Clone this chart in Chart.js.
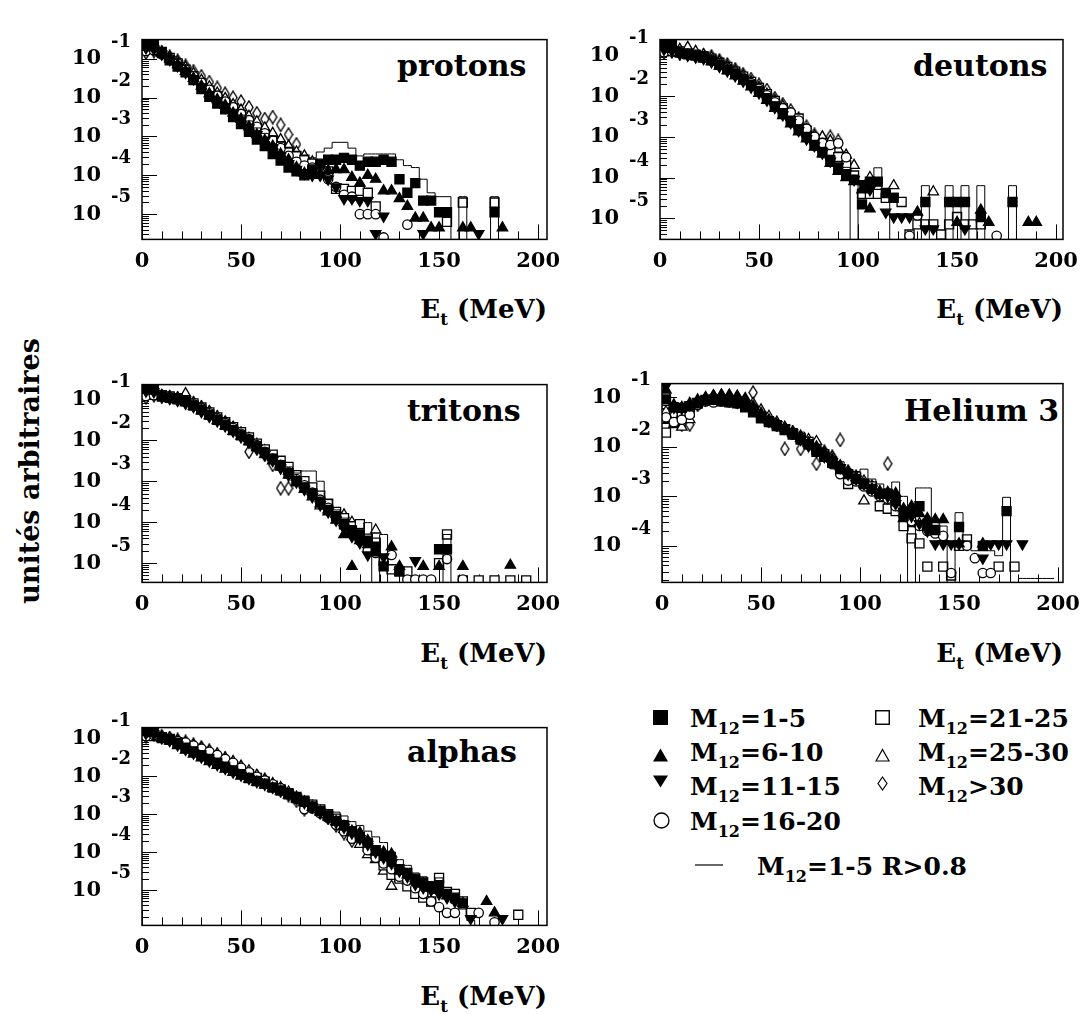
<!DOCTYPE html>
<html lang="fr">
<head>
<meta charset="utf-8">
<title>Spectres en énergie transverse</title>
<script src="https://cdn.jsdelivr.net/npm/chart.js@4/dist/chart.umd.min.js"></script>
<style>
  html, body { margin:0; padding:0; background:#fff; }
  body { width:1086px; height:1014px; position:relative; overflow:hidden;
         font-family:'DejaVu Serif', serif; font-weight:bold; color:#000; }
  .panel { position:absolute; }
  .name { position:absolute; font-size:30px; line-height:30px; white-space:nowrap; }
  .xtitle { position:absolute; font-size:26px; line-height:26px; white-space:nowrap; }
  .leg { position:absolute; font-size:25px; line-height:25px; white-space:nowrap; }
  sub { font-size:.64em; vertical-align:-.42em; line-height:0; }
  .mk { position:absolute; overflow:visible; }
  #ytitle { position:absolute; left:29px; top:471px; font-size:27px; line-height:27px; white-space:nowrap;
            transform:translate(-50%,-50%) rotate(-90deg); }
</style>
</head>
<body>

<div id="ytitle">unités arbitraires</div>

<div class="name" style="left:397px;top:51px">protons</div>
<div class="name" style="left:913px;top:51px">deutons</div>
<div class="name" style="left:407px;top:396px">tritons</div>
<div class="name" style="left:904px;top:396px">Helium 3</div>
<div class="name" style="left:407px;top:737px">alphas</div>

<div class="xtitle" style="right:539px;top:296px">E<sub>t</sub> (MeV)</div>
<div class="xtitle" style="right:23px;top:296px">E<sub>t</sub> (MeV)</div>
<div class="xtitle" style="right:539px;top:640px">E<sub>t</sub> (MeV)</div>
<div class="xtitle" style="right:23px;top:640px">E<sub>t</sub> (MeV)</div>
<div class="xtitle" style="right:539px;top:983px">E<sub>t</sub> (MeV)</div>

<!-- légende -->
<svg class="mk" style="left:653px;top:710px" width="15" height="15"><rect x="0" y="0" width="15" height="15" fill="#000"/></svg>
<svg class="mk" style="left:875px;top:710px" width="15" height="15"><rect x=".75" y=".75" width="13.5" height="13.5" fill="#fff" stroke="#000" stroke-width="1.4"/></svg>
<svg class="mk" style="left:653px;top:748px" width="15" height="14"><polygon points="0,13.5 7.5,0.5 15,13.5" fill="#000"/></svg>
<svg class="mk" style="left:875px;top:748px" width="15" height="14"><polygon points="1,13 7.5,1.5 14,13" fill="#fff" stroke="#000" stroke-width="1.2"/></svg>
<svg class="mk" style="left:653px;top:775px" width="15" height="13"><polygon points="0,0.5 15,0.5 7.5,12.5" fill="#000"/></svg>
<svg class="mk" style="left:877px;top:776px" width="11" height="15"><polygon points="5.5,1 10,7.5 5.5,14 1,7.5" fill="#fff" stroke="#000" stroke-width="1.2"/></svg>
<svg class="mk" style="left:653px;top:812px" width="17" height="17"><circle cx="8.5" cy="8.5" r="7.5" fill="#fff" stroke="#000" stroke-width="1.3"/></svg>
<svg class="mk" style="left:695px;top:864px" width="28" height="2"><line x1="0" y1="1" x2="28" y2="1" stroke="#000" stroke-width="1.2"/></svg>

<div class="leg" style="left:690px;top:706px">M<sub>12</sub>=1-5</div>
<div class="leg" style="left:918px;top:706px">M<sub>12</sub>=21-25</div>
<div class="leg" style="left:690px;top:740px">M<sub>12</sub>=6-10</div>
<div class="leg" style="left:918px;top:740px">M<sub>12</sub>=25-30</div>
<div class="leg" style="left:690px;top:774px">M<sub>12</sub>=11-15</div>
<div class="leg" style="left:918px;top:774px">M<sub>12</sub>&gt;30</div>
<div class="leg" style="left:690px;top:809px">M<sub>12</sub>=16-20</div>
<div class="leg" style="left:757px;top:854px">M<sub>12</sub>=1-5 R&gt;0.8</div>

<script>
// === Données =============================================================
// Bins de 4 MeV ; chaque valeur = log10(unités arbitraires), _ = pas de point.
// Ordre des séries : M12=1-5, 6-10, 11-15, 16-20, 21-25, 25-30, >30, puis histo R>0.8
const _ = null;

const binEnergies = [2,6,10,14,18,22,26,30,34,38,42,46,50,54,58,62,66,70,74,78,
                     82,86,90,94,98,102,106,110,114,118,122,126,130,134,138,142,146,150,154,158,
                     162,166,170,174,178,182,186,190,194,198];
const xTickLabels = [0, 50, 100, 150, 200];
const decades5 = [-1, -2, -3, -4, -5];
const decades4 = [-1, -2, -3, -4];

// --- protons
const protonsSq = [-0.55,-0.6,-0.85,-1.04,-1.2,-1.35,-1.55,-1.78,-1.98,-2.15,
  -2.3,-2.5,-2.68,-2.88,-3.08,-3.25,-3.45,-3.62,-3.8,-3.9,
  -4.0,-3.85,-3.7,-3.6,-3.6,-3.55,-3.6,-3.75,-3.65,-3.65,
  -3.6,-3.65,-4.1,-4.45,-4.2,-4.65,-4.65,-4.95,-4.95,_,
  _,_,_,_,-4.95];
const protonsTriUp = [-0.7,-0.72,-0.85,-1.0,-1.15,-1.32,-1.5,-1.7,-1.9,-2.05,
  -2.2,-2.4,-2.55,-2.75,-2.95,-3.1,-3.25,-3.45,-3.6,-3.8,
  -3.95,-4.0,-3.95,-3.88,-3.85,-3.85,-4.05,-4.2,-4.0,-4.1,
  -4.4,-4.4,-4.6,-4.8,-5.1,-5.1,-5.35,-5.35,_,_,
  -5.35,-5.35,_,_,_,-5.35];
const protonsTriDown = [-0.72,-0.75,-0.88,-1.02,-1.18,-1.35,-1.52,-1.72,-1.92,-2.08,
  -2.25,-2.42,-2.6,-2.78,-2.95,-3.1,-3.3,-3.5,-3.7,-3.85,
  -3.95,-4.0,-4.0,-4.1,-4.3,-4.6,-4.6,-4.65,-4.65,-5.5,
  -5.05,_,_,_,_,-5.5,_,_,_,_,
  _,_,-5.5];
const protonsCircle = [-0.8,-0.78,-0.88,-1.0,-1.12,-1.28,-1.45,-1.62,-1.8,-1.95,
  -2.1,-2.25,-2.42,-2.58,-2.75,-2.92,-3.1,-3.3,-3.5,-3.65,
  -3.75,-3.8,-3.95,-4.1,-4.3,-4.5,-4.55,-5.0,-5.0,-5.0,
  -5.6,_,_,-5.27];
const protonsOpenSq = [-0.75,-0.72,-0.82,-0.98,-1.12,-1.28,-1.45,-1.63,-1.82,-1.97,
  -2.12,-2.28,-2.45,-2.62,-2.8,-2.95,-3.1,-3.25,-3.4,-3.5,
  -3.6,-3.7,-3.8,-3.9,-4.35,-4.35,-4.4,-4.4,-4.45,-4.8,
  _,_,_,_,_,_,_,_,-5.2,_,
  -4.7,_,_,_,-4.7];
const protonsOpenTri = [-0.78,-0.75,-0.82,-0.95,-1.08,-1.22,-1.38,-1.55,-1.72,-1.88,
  -2.02,-2.18,-2.32,-2.48,-2.62,-2.78,-2.92,-3.08,-3.25,-3.4,
  -3.5,-3.65,-3.8];
const protonsDiamond = [-0.84,-0.8,-0.85,-0.95,-1.05,-1.18,-1.32,-1.45,-1.6,-1.75,
  -1.9,-2.0,-2.1,-2.25,-2.4,-2.55,-2.5,-2.7,-2.95,-3.2];
const protonsHist = [-0.5,-0.55,-0.8,-0.98,-1.15,-1.3,-1.48,-1.68,-1.85,-2.0,
  -2.15,-2.3,-2.45,-2.6,-2.78,-2.92,-3.0,-3.15,-3.3,-3.4,
  -3.5,-3.55,-3.4,-3.3,-3.15,-3.15,-3.3,-3.5,-3.45,-3.45,
  -3.45,-3.45,-3.6,-3.75,-3.8,-4.1,-4.45,-4.55,-4.55,_,
  -4.55,_,_,_,-4.55,_];

// --- deutons
const deutonsSq = [-0.66,-0.72,-0.93,-0.97,-1.0,-1.05,-1.12,-1.23,-1.34,-1.45,
  -1.58,-1.72,-1.87,-2.05,-2.25,-2.42,-2.6,-2.82,-3.0,-3.2,
  -3.38,-3.58,-3.78,-3.92,-4.05,-4.66,-4.1,-4.1,-4.38,-4.5,
  _,_,_,-4.6,_,_,-4.6,-4.6,-4.6,_,
  -4.97,_,_,_,-4.6];
const deutonsTriUp = [-0.8,-0.85,-0.95,-1.0,-1.03,-1.08,-1.15,-1.26,-1.37,-1.5,
  -1.63,-1.77,-1.93,-2.1,-2.3,-2.48,-2.68,-2.88,-3.05,-3.25,
  -3.42,-3.65,-3.85,-4.0,-4.1,-4.3,-4.77,_,_,_,
  _,_,-4.85,_,_,_,_,-5.1,_,_,
  -4.8,-5.1,_,_,_,_,-5.1,-5.1];
const deutonsTriDown = [-0.85,-0.88,-0.96,-1.0,-1.04,-1.08,-1.16,-1.27,-1.38,-1.5,
  -1.63,-1.78,-1.92,-2.1,-2.28,-2.46,-2.65,-2.85,-3.05,-3.22,
  -3.4,-3.6,-3.72,-3.9,-4.05,-4.15,-4.3,_,-4.85,-4.97,
  -4.97,-4.97,_,-5.26,-5.26,_,_,_,-5.26];
const deutonsCircle = [-0.92,-0.9,-0.92,-0.96,-1.0,-1.04,-1.1,-1.2,-1.3,-1.42,
  -1.55,-1.68,-1.82,-1.98,-2.15,-2.3,-2.4,-2.6,-2.8,-3.0,
  -3.15,-3.2,-3.16,-3.5,_,_,_,_,_,_,
  _,-5.43,-4.93,_,_,_,_,_,_,_,
  _,_,-5.43];
const deutonsOpenSq = [-0.9,-0.88,-0.9,-0.95,-0.98,-1.02,-1.08,-1.18,-1.28,-1.4,
  -1.52,-1.65,-1.8,-1.95,-2.12,-2.3,-2.48,-2.55,-2.85,-3.05,
  -3.15,-3.35,-3.5,-3.7,-3.95,-4.4,-4.4,-4.4,-4.5,-4.5,
  -4.6,-5.4,-5.15,-5.15,-5.15,-5.4,-5.15,-4.97,-5.15,-5.15,
  -5.15];
const deutonsOpenTri = [-0.85,-0.82,-0.85,-0.8,-0.9,-0.98,-1.05,-1.15,-1.26,-1.38,
  -1.5,-1.64,-1.78,-1.95,-2.1,-2.25,-2.45,-2.65,-2.82,-2.98,
  -3.0,-3.1,-3.3,-3.45,-3.7,_,-4.0,_,_,-4.2,
  _,_,_,_,-4.35];
const deutonsDiamond = [-0.92,-0.9,-0.94,-0.96,-0.98,-1.0,-1.02,-1.12,-1.22,-1.34,
  -1.46,-1.58,-1.72,-1.85,-2.05,-2.2,-2.35,-2.55,-2.75,-2.95,
  -3.05,-3.0,-3.1];
const deutonsHist = [-0.62,-0.66,-0.9,-0.94,-0.97,-1.02,-1.08,-1.18,-1.28,-1.4,
  -1.53,-1.66,-1.8,-1.97,-2.15,-2.33,-2.52,-2.72,-2.92,-3.1,
  -3.28,-3.45,-3.6,-3.75,_,-4.1,-4.1,-3.76,-4.35,_,
  _,_,_,-4.2,_,_,-4.2,_,-4.2,_,
  -4.2,_,_,_,-4.2,_];

// --- tritons
const tritonsSq = [-0.68,-0.75,-0.93,-0.96,-1.0,-1.05,-1.15,-1.25,-1.38,-1.5,
  -1.62,-1.75,-1.88,-2.0,-2.15,-2.3,-2.45,-2.62,-2.8,-3.0,
  -3.15,-3.3,-3.5,-3.7,-3.85,-4.05,-4.2,-4.3,-4.45,-4.6,
  -5.08,_,-5.2,_,_,_,_,-4.66,-4.66];
const tritonsTriUp = [-0.78,-0.8,-0.92,-0.97,-1.02,-1.08,-1.17,-1.28,-1.4,-1.52,
  -1.65,-1.78,-1.9,-2.03,-2.18,-2.35,-2.5,-2.65,-2.85,-3.02,
  -3.2,-3.38,-3.55,-3.75,-3.95,-4.3,-5.08,-4.45,-4.55,-4.75,
  _,-4.6,-5.08,_,_,-5.08,_,-5.08,_,_,
  -5.08,_,_,_,_,_,-5.05];
const tritonsTriDown = [-0.8,-0.82,-0.94,-0.98,-1.03,-1.1,-1.18,-1.3,-1.42,-1.53,
  -1.65,-1.78,-1.92,-2.05,-2.2,-2.35,-2.5,-2.68,-2.85,-3.02,
  -3.2,-3.38,-3.58,-3.75,-3.95,-4.15,-4.35,-4.5,-4.8,_,
  -4.85,_,_,_,-4.94];
const tritonsCircle = [-0.92,-0.9,-0.92,-0.95,-0.98,-1.04,-1.12,-1.22,-1.34,-1.46,
  -1.58,-1.7,-1.84,-1.97,-2.12,-2.28,-2.45,-2.6,-2.78,-2.95,
  -3.1,-3.28,-3.45,-3.65,-3.85,-4.05,-4.2,-4.45,-4.7,-4.75,
  _,-4.8,_,-5.4,-5.4,-5.4,-5.4,_,-4.9,_,
  -5.4];
const tritonsOpenSq = [-0.85,-0.85,-0.9,-0.93,-0.97,-1.02,-1.1,-1.2,-1.32,-1.44,
  -1.56,-1.68,-1.8,-1.93,-2.08,-2.22,-2.35,-2.5,-2.65,-2.85,
  -3.0,-3.15,-3.35,-3.55,-3.75,-3.9,-4.1,-4.05,-4.4,-4.5,
  -4.95,-5.15,-5.2,-5.2,_,_,_,-5.0,-4.3,_,
  -5.42,_,-5.42,_,-5.42,_,-5.42,_,-5.42];
const tritonsOpenTri = [-0.9,-0.88,-0.9,-0.93,-0.96,-0.86,-1.08,-1.18,-1.3,-1.42,
  -1.55,-1.68,-1.82,-1.95,-2.1,-2.25,-2.42,-2.58,-2.75,-2.9,
  -3.08,-3.25,-3.6,-3.7,-3.8,-3.82,-4.0,_,_,-4.19];
const tritonsDiamond = [-0.95,-0.9,-0.93,-0.95,-0.98,-1.02,-1.1,-1.2,-1.32,-1.45,
  -1.58,-1.72,-1.88,-2.28,-2.2,-2.35,-2.6,-3.17,-3.17,-2.95,
  -3.15];
const tritonsHist = [-0.66,-0.72,-0.9,-0.94,-0.98,-1.03,-1.12,-1.22,-1.34,-1.46,
  -1.58,-1.7,-1.82,-1.95,-2.08,-2.2,-2.35,-2.5,-2.65,-2.8,
  -2.75,-2.75,-3.0,-3.45,-3.7,-3.9,-4.1,-4.15,-4.01,_,
  -4.3,_,_,_,_,_,_,_,-4.3,_];

// --- helium 3
const heliumSq = [-1.04,-1.2,-1.21,-1.18,-1.12,-1.05,-1.05,-1.08,-1.1,-1.12,
  -1.2,-1.3,-1.42,-1.5,-1.58,-1.66,-1.75,-1.85,-1.95,-2.1,
  -2.2,-2.32,-2.45,-2.55,-2.65,-2.75,-2.85,-2.95,-2.95,-3.1,
  -3.4,-3.3,-3.2,-3.55,-3.68,_,_,-3.62,_,_,
  -4.0,_,_,-3.3];
const heliumTriUp = [-0.85,-1.15,-1.2,-1.12,-1.05,-1.0,-0.97,-0.95,-0.96,-0.98,
  -1.05,-1.18,-1.32,-1.45,-1.55,-1.62,-1.72,-1.82,-1.92,-2.0,
  -2.12,-2.25,-2.38,-2.5,-2.62,-2.75,-2.85,-2.9,-2.92,-2.94,
  -3.25,-3.2,-3.35,-3.45,-3.47,-3.47,_,-3.96,_,_,
  -3.96];
const heliumTriDown = [-0.77,-1.2,-1.22,-1.15,-1.08,-1.05,-1.02,-1.04,-1.06,-1.1,
  -1.15,-1.25,-1.38,-1.48,-1.55,-1.62,-1.72,-1.85,-1.98,-2.08,
  -2.2,-2.3,-2.42,-2.55,-2.65,-2.75,-2.85,-2.95,-3.0,-3.15,
  -3.3,-3.4,-3.55,-3.7,-3.96,-3.96,-3.96,-3.96,_,_,
  -4.25,-3.96,-3.96,-3.96,_,-3.96];
const heliumCircle = [-1.4,-1.5,-1.45,-1.35,-1.15,-1.08,-1.1,-1.08,-1.1,-1.12,
  -1.18,-1.28,-1.4,-1.5,-1.58,-1.65,-1.75,-1.85,-1.95,-2.1,
  -2.2,-2.35,-2.55,-2.68,-2.7,-2.8,-2.9,-3.0,-3.05,-3.2,
  -3.4,-3.5,-3.6,-3.7,-3.75,-3.8,-4.55,_,-4.0,-4.25,
  -4.55,-4.55];
const heliumOpenSq = [-1.71,-1.5,-1.35,-1.3,-1.12,-1.06,-1.05,-1.06,-1.08,-1.1,
  -1.15,-1.25,-1.38,-1.48,-1.56,-1.64,-1.72,-1.82,-1.9,-2.05,
  -2.15,-2.3,-2.45,-2.75,-2.6,-2.75,-2.8,-3.2,-3.25,-3.3,
  -3.6,-3.85,-3.95,-4.42,_,-4.42,-4.6,-4.0,-3.87,_,
  _,_,-4.42,_,-4.42];
const heliumOpenTri = [-1.45,-1.55,-1.6,-1.45,-1.1,-1.02,-0.96,-0.95,-0.95,-0.97,
  -1.02,-1.12,-1.25,-1.38,-1.5,-1.6,-1.7,-1.78,-1.85,-1.89,
  -2.1,-2.2,-2.4,-2.55,-2.7,-3.09,-2.85,-2.95,-3.1,-3.25,
  -3.45,-3.55,-3.55,-3.55];
const heliumDiamond = [-1.3,-1.35,-1.55,-1.55,-1.15,-1.05,-1.0,-1.0,-1.02,-1.05,
  -1.08,-0.9,-1.35,-1.45,-1.55,-2.04,-1.7,-2.04,-1.9,-2.34,
  -2.1,-2.2,-1.86,-2.5,-2.6,-2.7,-2.8,-3.0,-2.34];
const heliumHist = [-0.9,-1.1,-1.15,-1.1,-1.02,-0.98,-0.95,-0.95,-0.96,-1.0,
  -1.05,-1.15,-1.3,-1.42,-1.52,-1.58,-1.65,-1.7,-1.85,-1.98,
  -2.05,-2.2,-2.3,-2.45,-2.5,-2.45,-2.65,-2.75,-2.85,-2.71,
  -3.0,_,-2.83,-2.83,-3.5,-3.6,_,-3.33,-3.9,-4.1,
  -4.1,-4.1,-4.2,-3.02,_,-4.66,-4.66,-4.66,-4.66,-4.66];

// --- alphas
const alphasSq = [-0.77,-0.8,-0.98,-1.02,-1.12,-1.25,-1.35,-1.45,-1.55,-1.65,
  -1.75,-1.85,-1.95,-2.05,-2.13,-2.2,-2.3,-2.38,-2.48,-2.58,
  -2.68,-2.8,-2.92,-3.05,-3.18,-3.3,-3.45,-3.6,-3.75,-3.95,
  -4.1,-4.25,-4.45,-4.55,-4.7,-4.8,-4.9,-4.87,-5.1,-5.2,
  -5.35];
const alphasTriUp = [-0.85,-0.88,-1.0,-1.08,-1.2,-1.32,-1.42,-1.52,-1.62,-1.72,
  -1.82,-1.9,-2.0,-2.08,-2.16,-2.24,-2.32,-2.4,-2.5,-2.6,
  -2.7,-2.82,-2.95,-3.08,-3.2,-3.32,-3.45,-3.49,-3.7,-4.0,
  -4.0,-4.05,-4.5,-4.6,-4.75,-4.83,-4.95,-5.0,-5.15,_,
  -5.35,_,_,-5.3,-5.6];
const alphasTriDown = [-0.88,-0.9,-1.0,-1.07,-1.18,-1.3,-1.4,-1.5,-1.6,-1.7,
  -1.8,-1.9,-1.98,-2.06,-2.15,-2.22,-2.3,-2.38,-2.48,-2.58,
  -2.7,-2.82,-2.95,-3.1,-3.22,-3.35,-3.5,-3.65,-3.8,-4.0,
  -4.15,-4.3,-4.5,-4.65,-4.85,-4.94,-5.0,-5.1,-5.2,-5.3,
  _,-5.75,_,_,_,-5.75];
const alphasCircle = [-0.95,-0.92,-0.98,-1.02,-1.08,-1.12,-1.2,-1.28,-1.36,-1.45,
  -1.55,-1.65,-1.78,-1.9,-2.02,-2.12,-2.22,-2.32,-2.45,-2.6,
  -2.87,-2.85,-2.98,-3.1,-3.28,-3.45,-3.65,-3.6,-3.95,-4.15,
  -4.3,-4.45,-4.65,-4.75,-4.95,-5.1,-5.3,-5.45,-5.6,-5.6,
  _,_,-5.6,_,-5.85];
const alphasOpenSq = [-0.92,-0.95,-1.0,-1.04,-1.12,-1.2,-1.28,-1.36,-1.45,-1.55,
  -1.65,-1.75,-1.85,-1.95,-2.05,-2.15,-2.25,-2.35,-2.45,-2.55,
  -2.65,-2.75,-2.88,-3.0,-3.12,-3.3,-3.45,-3.62,-3.85,-4.05,
  -4.35,-4.6,-4.7,-4.9,-5.1,-5.2,-5.3,-4.68,-5.05,-5.1,
  -5.3,-5.6,_,_,_,_,_,-5.65];
const alphasOpenTri = [-0.92,-0.9,-0.96,-1.0,-1.06,-1.12,-1.18,-1.25,-1.33,-1.42,
  -1.52,-1.62,-1.74,-1.86,-1.98,-2.1,-2.2,-2.3,-2.42,-2.55,
  -2.68,-2.8,-2.92,-3.05,-3.2,-3.4,-3.6,-3.8,-4.07,-4.2,
  -4.5,-4.9,-4.7,-4.75,-4.85,-4.95,-4.95,-5.0];
const alphasDiamond = [-0.95,-0.9,-0.95,-1.0,-1.05,-1.1,-1.18,-1.25,-1.34,-1.44,
  -1.55,-1.65,-1.78,-1.9,-2.0,-2.1,-2.25,-2.38,-2.5,-2.65,
  -2.87,-2.8,-2.95,-3.1,-3.3,-3.5,-3.7];
const alphasHist = [-0.75,-0.78,-0.95,-1.0,-1.1,-1.2,-1.3,-1.4,-1.5,-1.6,
  -1.7,-1.8,-1.9,-1.98,-2.05,-2.12,-2.2,-2.3,-2.4,-2.5,
  -2.6,-2.7,-2.8,-2.9,-2.95,-3.05,-3.2,-3.3,-3.45,-3.6,
  -3.75,-4.0,-4.2,-4.35,-4.55,-4.65,-4.8,-4.68,-5.2,-5.35,
  -5.5,-5.8,_];

// === Mise en page des 5 cadres (pixels de la page) =======================
const panels = [
  { box:[142, 18, 547, 247], xMax:204.5, yLog:[-5.65, -0.505], decades:decades5,
    series:[protonsSq, protonsTriUp, protonsTriDown, protonsCircle, protonsOpenSq, protonsOpenTri, protonsDiamond], hist:protonsHist },
  { box:[660, 18, 1063, 247], xMax:203.5, yLog:[-5.52, -0.61], decades:decades5,
    series:[deutonsSq, deutonsTriUp, deutonsTriDown, deutonsCircle, deutonsOpenSq, deutonsOpenTri, deutonsDiamond], hist:deutonsHist },
  { box:[142, 363, 547, 590], xMax:204.5, yLog:[-5.47, -0.64], decades:decades5,
    series:[tritonsSq, tritonsTriUp, tritonsTriDown, tritonsCircle, tritonsOpenSq, tritonsOpenTri, tritonsDiamond], hist:tritonsHist },
  { box:[662, 362, 1063, 590], xMax:202.5, yLog:[-4.74, -0.72], decades:decades4,
    series:[heliumSq, heliumTriUp, heliumTriDown, heliumCircle, heliumOpenSq, heliumOpenTri, heliumDiamond], hist:heliumHist },
  { box:[142, 706, 547, 933], xMax:204.5, yLog:[-5.93, -0.725], decades:decades5,
    series:[alphasSq, alphasTriUp, alphasTriDown, alphasCircle, alphasOpenSq, alphasOpenTri, alphasDiamond], hist:alphasHist },
];

const PAD = { left:100, top:32, right:34, bottom:46 };
const tickFont = { family:'DejaVu Serif', size:21, weight:'bold' };

// losange étroit (M12>30), comme sur l'original
function diamondMarker(){
  const c = document.createElement('canvas');
  c.width = 10; c.height = 15;
  const g = c.getContext('2d');
  g.beginPath();
  g.moveTo(5, 1); g.lineTo(9, 7.5); g.lineTo(5, 14); g.lineTo(1, 7.5); g.closePath();
  g.fillStyle = '#fff'; g.fill();
  g.strokeStyle = '#000'; g.lineWidth = 1.4; g.stroke();
  return c;
}

// drawn from last to first: open symbols underneath, filled ones on top
const markers = [
  { style:'rect',     radius:6.4, bg:'#000', rot:0 },    // M12=1-5
  { style:'triangle', radius:6.0, bg:'#000', rot:0 },    // M12=6-10
  { style:'triangle', radius:6.0, bg:'#000', rot:180 },  // M12=11-15
  { style:'circle',   radius:4.7, bg:'#fff', rot:0 },    // M12=16-20
  { style:'rect',     radius:6.4, bg:'#fff', rot:0 },    // M12=21-25
  { style:'triangle', radius:6.0, bg:'#fff', rot:0 },    // M12=25-30
  { style:diamondMarker(), radius:5, bg:'#fff', rot:0 }, // M12>30
];

function toPoints(logs){
  const pts = [];
  logs.forEach((v, i) => { if (v !== null) pts.push({ x: binEnergies[i], y: Math.pow(10, v) }); });
  return pts;
}
// bins vides de l'histo : on descend sous l'axe, le trait est coupé au cadre
function toHist(logs){
  return logs.map((v, i) => ({ x: binEnergies[i], y: v === null ? 1e-9 : Math.pow(10, v) }));
}

// cadre + petites graduations intérieures + exposants des "10"
const paperPlugin = {
  id: 'paper',
  beforeDatasetsDraw(chart){
    const { ctx, chartArea:a, scales:{ x, y } } = chart;
    ctx.save();
    ctx.strokeStyle = '#000';
    ctx.lineWidth = 1;
    ctx.beginPath();
    for (let v = 0; v <= 200; v += 10){
      const px = Math.round(x.getPixelForValue(v)) + .5;
      ctx.moveTo(px, a.bottom);
      ctx.lineTo(px, a.bottom - (v % 50 === 0 ? 15 : 8));
    }
    const lo = Math.floor(Math.log10(y.min)), hi = Math.ceil(Math.log10(y.max));
    for (let d = lo; d < hi; d++){
      for (let k = 1; k < 10; k++){
        const v = k * Math.pow(10, d);
        if (v < y.min || v > y.max) continue;
        const py = Math.round(y.getPixelForValue(v)) + .5;
        ctx.moveTo(a.left, py);
        ctx.lineTo(a.left + (k === 1 ? 15 : 7), py);
      }
    }
    ctx.stroke();
    ctx.restore();
  },
  afterDraw(chart, args, opts){
    const { ctx, chartArea:a, scales:{ y } } = chart;
    ctx.save();
    ctx.strokeStyle = '#000';
    ctx.lineWidth = 1.5;
    ctx.strokeRect(a.left, a.top, a.right - a.left, a.bottom - a.top);
    ctx.fillStyle = '#000';
    ctx.font = 'bold 18px "DejaVu Serif"';
    ctx.textAlign = 'left';
    ctx.textBaseline = 'alphabetic';
    opts.decades.forEach(e => {
      ctx.fillText(String(e), a.left - 31, y.getPixelForValue(Math.pow(10, e)) - 12);
    });
    ctx.restore();
  }
};

function makePanel(p){
  const [l, t, r, b] = p.box;
  const wrap = document.createElement('div');
  wrap.className = 'panel';
  wrap.style.left = (l - PAD.left) + 'px';
  wrap.style.top = (t - PAD.top) + 'px';
  const canvas = document.createElement('canvas');
  canvas.width = (r - l) + PAD.left + PAD.right;
  canvas.height = (b - t) + PAD.top + PAD.bottom;
  wrap.appendChild(canvas);
  document.body.appendChild(wrap);

  const datasets = p.series.map((logs, k) => ({
    data: toPoints(logs),
    showLine: false,
    pointStyle: markers[k].style,
    pointRadius: markers[k].radius,
    pointRotation: markers[k].rot,
    pointBackgroundColor: markers[k].bg,
    pointBorderColor: '#000',
    pointBorderWidth: 1.3,
    order: k + 1
  }));
  datasets.push({
    data: toHist(p.hist),
    showLine: true,
    stepped: 'middle',
    borderColor: '#000',
    borderWidth: 1,
    pointRadius: 0,
    fill: false,
    order: 0
  });

  new Chart(canvas, {
    type: 'scatter',
    data: { datasets },
    options: {
      responsive: false,
      animation: false,
      events: [],
      layout: { padding: { left:0, top:PAD.top, right:PAD.right, bottom:0 } },
      plugins: { legend:{ display:false }, tooltip:{ enabled:false }, paper:{ decades:p.decades } },
      scales: {
        x: {
          type: 'linear', min: 0, max: p.xMax,
          afterBuildTicks: s => { s.ticks = xTickLabels.map(v => ({ value: v })); },
          afterFit: s => { s.height = PAD.bottom; },
          grid: { display:false, drawTicks:false },
          border: { display:false },
          ticks: { autoSkip:false, maxRotation:0, padding:10, color:'#000', font:tickFont }
        },
        y: {
          type: 'logarithmic',
          min: Math.pow(10, p.yLog[0]), max: Math.pow(10, p.yLog[1]),
          afterBuildTicks: s => { s.ticks = p.decades.map(e => ({ value: Math.pow(10, e) })); },
          afterFit: s => { s.width = PAD.left; },
          grid: { display:false, drawTicks:false },
          border: { display:false },
          ticks: { autoSkip:false, padding:41, color:'#000', font:tickFont, callback: () => '10' }
        }
      }
    },
    plugins: [paperPlugin]
  });
}

panels.forEach(makePanel);
</script>
</body>
</html>
